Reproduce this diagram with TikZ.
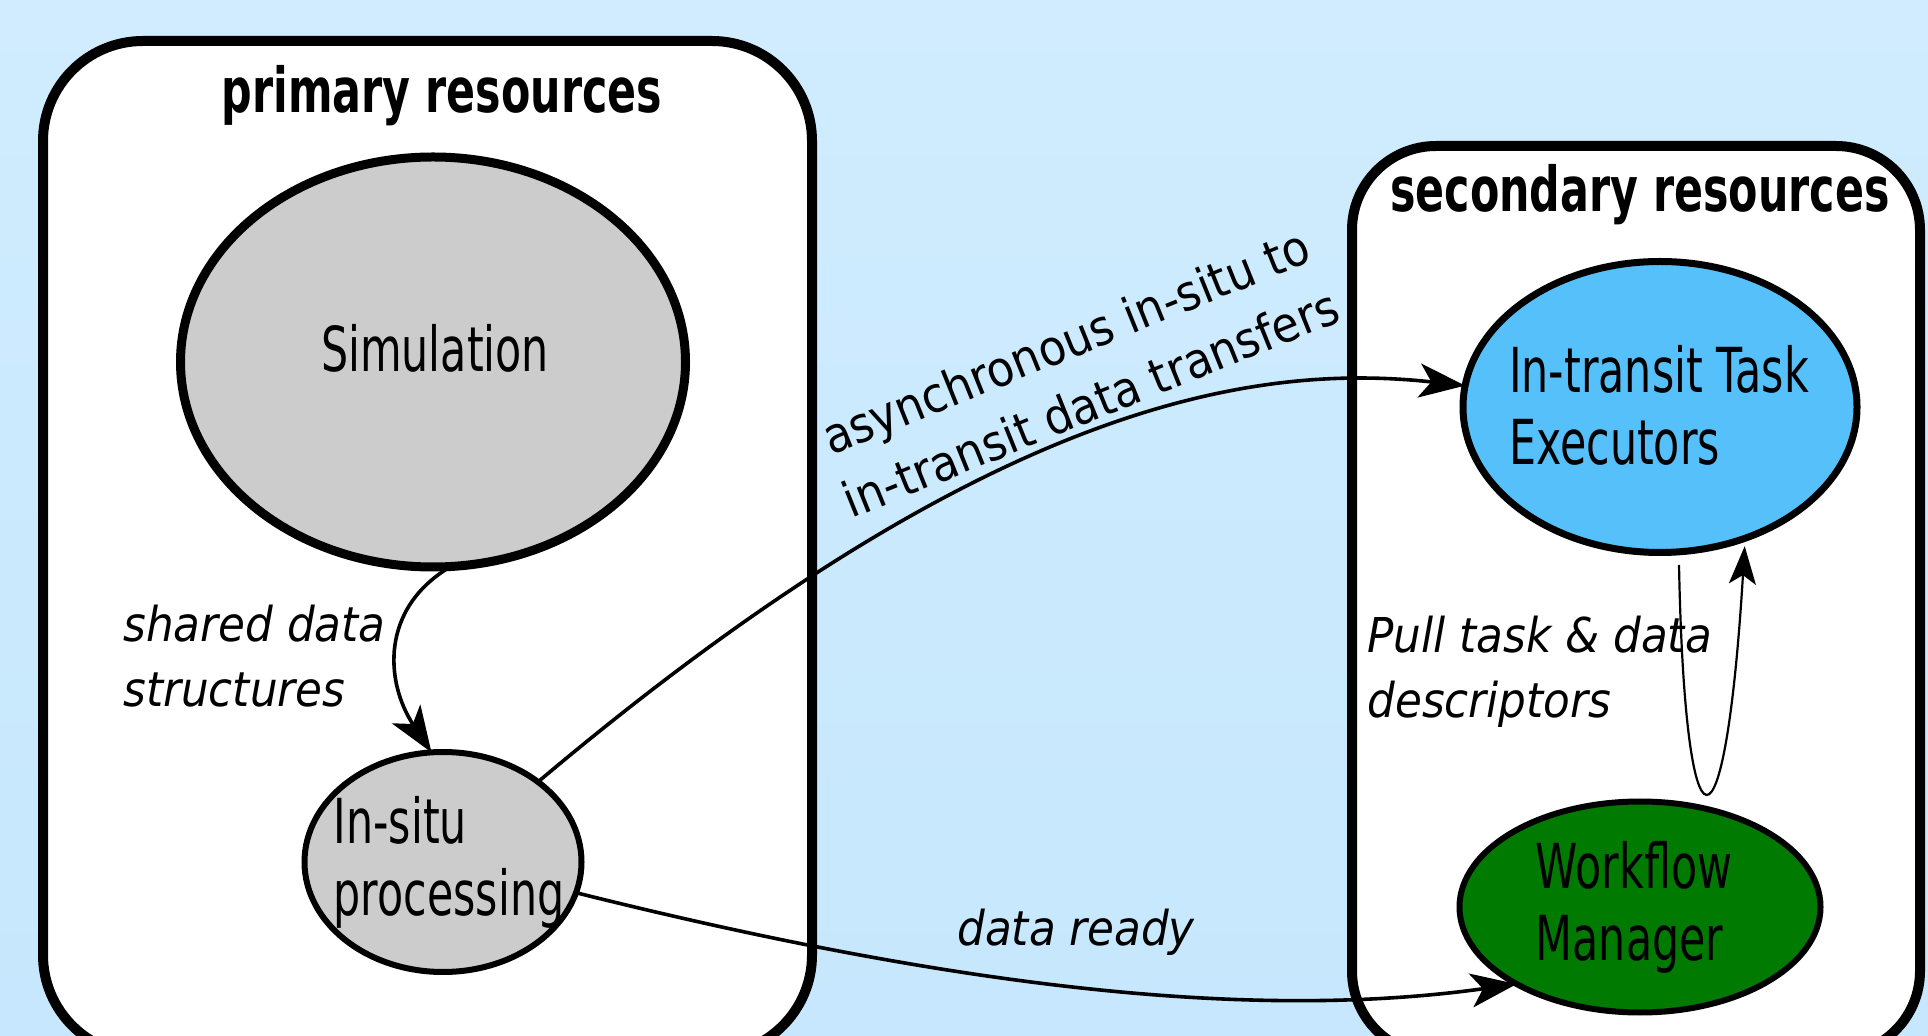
\documentclass[tikz,border=0pt]{standalone}
\usepackage{fontspec}
\setmainfont{DejaVu Sans}
\newfontfamily\nodefont[FakeStretch=0.69]{DejaVu Sans}
\newfontfamily\labelfont[FakeStretch=0.91]{DejaVu Sans}
\usetikzlibrary{shapes.geometric,arrows.meta}
\definecolor{bgtop}{RGB}{208,236,254}
\definecolor{bgbot}{RGB}{198,231,253}
\definecolor{simgray}{RGB}{204,204,204}
\definecolor{itblue}{RGB}{86,192,250}
\definecolor{wfgreen}{RGB}{0,122,0}
\begin{document}
\begin{tikzpicture}[x=0.5pt,y=-0.5pt,
  resbox/.style={rectangle,draw=black,line width=5pt,fill=white,inner sep=0pt,outer sep=0pt},
  proc/.style={ellipse,draw=black,inner sep=0pt,outer sep=0pt},
  ntext/.style={font=\nodefont\fontsize{31}{36}\selectfont,align=left,inner sep=0pt},
  boxtitle/.style={font=\nodefont\bfseries\fontsize{31}{36}\selectfont,inner sep=0pt,anchor=base},
  lbl/.style={font=\labelfont\itshape\fontsize{24}{32.5}\selectfont,inner sep=0pt,anchor=base west},
  conn/.style={line width=1.8pt,-{Stealth[length=23pt,width=17pt,inset=6pt]}},
  pull/.style={line width=1.1pt,-{Stealth[length=19pt,width=13.5pt,inset=4.5pt]}},
]
\useasboundingbox (0,0) rectangle (1928,1036);
\shade[top color=bgtop,bottom color=bgbot] (0,0) rectangle (1928,1036);

% resource boxes
\node[resbox,rounded corners=50pt,minimum width=384.5pt,minimum height=507pt] (primbox) at (427.5,548) {};
\node[resbox,rounded corners=42pt,minimum width=284pt,minimum height=454.5pt] (secbox) at (1636,600.5) {};
\node[boxtitle] (primtitle) at (442,113) {primary resources};
\node[boxtitle] (sectitle) at (1640,212) {secondary resources};

% processes
\node[proc,fill=simgray,line width=4.5pt,minimum width=252.5pt,minimum height=205pt,
      label={[ntext,yshift=7pt,xshift=1pt]center:Simulation}] (sim) at (433,362) {};
\node[proc,fill=simgray,line width=3pt,minimum width=138.5pt,minimum height=110pt,
      label={[ntext,xshift=3pt]center:In-situ\\processing}] (insitu) at (443,862) {};
\node[proc,fill=itblue,line width=3.5pt,minimum width=197pt,minimum height=145.5pt,
      label={[ntext,xshift=-0.5pt,yshift=1pt]center:In-transit Task\\Executors}] (itx) at (1660,407) {};
\node[proc,fill=wfgreen,line width=3pt,minimum width=180.5pt,minimum height=105.5pt,
      label={[ntext,xshift=-3pt]center:Workflow\\Manager}] (wf) at (1640,907) {};

% connectors
\draw[conn] (sim.-85) .. controls (380,608) and (385,682) .. (insitu.96);
\draw[conn] (insitu) .. controls (985,405) and (1250,362) .. (itx);
\draw[conn] (insitu.-13) .. controls (969,991) and (1260,1020) .. (wf.-148);
\coordinate (pullstart) at (1679,565);
\draw[pull,shorten >=4pt] (pullstart) .. controls (1685,870) and (1725,870) .. (itx.-57);

% labels
\node[lbl] (sharedlbl) at (123,642) {\begin{tabular}[t]{@{}l@{}}shared data\\structures\end{tabular}};
\node[lbl] (pulllbl) at (1367,653) {\begin{tabular}[t]{@{}l@{}}Pull task \& data\\descriptors\end{tabular}};
\node[lbl] (readylbl) at (957,945) {data ready};
\node[font=\labelfont\fontsize{24.5}{33}\selectfont,align=center,rotate=22,inner sep=0pt] (asynclbl) at (1078,372) {asynchronous in-situ to\\in-transit data transfers};
\end{tikzpicture}
\end{document}
